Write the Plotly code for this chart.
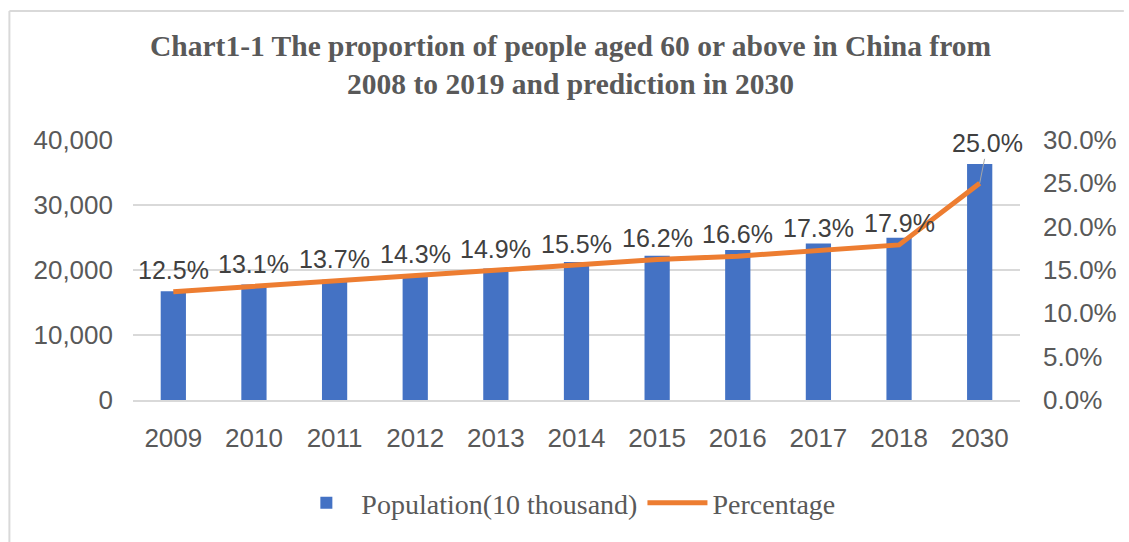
import plotly.graph_objects as go

years = ["2009", "2010", "2011", "2012", "2013", "2014", "2015", "2016", "2017", "2018", "2030"]
population = [16714, 17765, 18499, 19390, 20243, 21242, 22200, 23086, 24090, 24949, 36300]
percentage = [0.125, 0.131, 0.137, 0.143, 0.149, 0.155, 0.162, 0.166, 0.173, 0.179, 0.250]

TICK_FONT = dict(family="Liberation Sans, Arial, sans-serif", size=26, color="#595959")
SERIF = "Liberation Serif, Times New Roman, serif"

fig = go.Figure()
fig.add_trace(go.Bar(
    x=years, y=population, name="Population(10 thousand)",
    marker=dict(color="#4472C4", line=dict(width=0)),
))
fig.add_trace(go.Scatter(
    x=years, y=percentage, name="Percentage", yaxis="y2", mode="lines",
    line=dict(color="#ED7D31", width=5),
))

annotations = []
for i, p in enumerate(percentage):
    last = i == len(percentage) - 1
    ann = dict(
        x=i, y=p, xref="x", yref="y2", text=f"{p*100:.1f}%",
        font=dict(family="Liberation Sans, Arial, sans-serif", size=25, color="#404040"),
        showarrow=False, yshift=22,
    )
    if last:
        ann.update(showarrow=True, arrowhead=0, arrowwidth=1, arrowcolor="#A6A6A6",
                   ax=8, ay=-40, yshift=0, standoff=0)
    annotations.append(ann)

annotations.append(dict(
    text="<b>Chart1-1 The proportion of people aged 60 or above in China from</b><br><b>2008 to 2019 and prediction in 2030</b>",
    xref="paper", yref="paper", x=0.493, y=(400 - 65) / 260, xanchor="center", yanchor="middle",
    showarrow=False, font=dict(family=SERIF, size=29.5, color="#595959"),
))

shapes = [
    dict(type="line", xref="paper", yref="paper", x0=(8 - 133) / 897, x1=(1135 - 133) / 897,
         y0=(400 - 11) / 260, y1=(400 - 11) / 260, line=dict(color="#D9D9D9", width=2)),
    dict(type="line", xref="paper", yref="paper", x0=(8 - 133) / 897, x1=(8 - 133) / 897,
         y0=(400 - 11) / 260, y1=(400 - 545) / 260, line=dict(color="#D9D9D9", width=2)),
]

fig.update_layout(
    width=1129, height=542,
    margin=dict(l=133, r=99, t=140, b=142),
    paper_bgcolor="white", plot_bgcolor="white",
    bargap=0.687,
    showlegend=True,
    legend=dict(orientation="h", x=0.488, xanchor="center", y=(400 - 503) / 260, yanchor="middle",
                font=dict(family=SERIF, size=28, color="#595959"), itemwidth=60),
    xaxis=dict(type="category", range=[-0.5, len(years) - 0.5], tickfont=TICK_FONT,
               showgrid=False, showline=True,
               linecolor="#D9D9D9", linewidth=1.5, ticks="", ticklabelstandoff=14),
    yaxis=dict(range=[0, 40000], dtick=10000, tickformat=",d", tickfont=TICK_FONT,
               showgrid=True, gridcolor="#D9D9D9", gridwidth=1.5, zeroline=False,
               showline=False, ticks="", ticklabelstandoff=19),
    yaxis2=dict(range=[0, 0.30], dtick=0.05, tickformat=".1%", tickfont=TICK_FONT,
                overlaying="y", side="right", showgrid=False, zeroline=False,
                showline=False, ticks="", ticklabelstandoff=22),
    annotations=annotations,
    shapes=shapes,
)

fig.write_html("out.html")
